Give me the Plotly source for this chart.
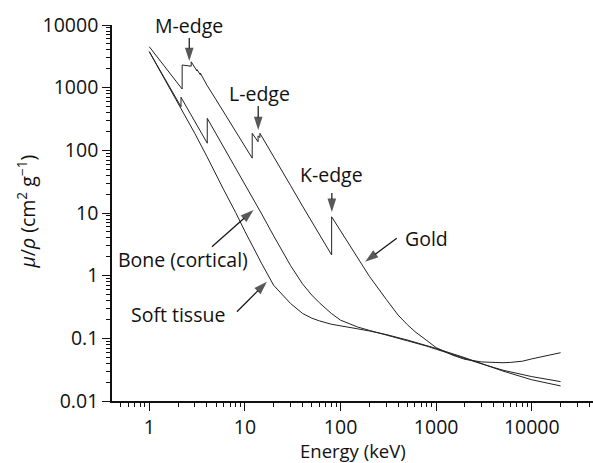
import math
import plotly.graph_objects as go

# Mass attenuation coefficient mu/rho (cm^2/g) versus photon energy (keV).
# Absorption edges are written as two points at the same energy.
gold_energy = [1.0, 1.5, 2.0, 2.206, 2.206, 2.45, 2.743, 2.743, 3.0, 3.148, 3.148,
               3.425, 3.425, 4.0, 5.0, 6.0, 8.0, 10.0, 11.92, 11.92, 13.73, 13.73,
               14.35, 14.35, 15.0, 20.0, 30.0, 40.0, 50.0, 60.0, 80.72, 80.72,
               100.0, 150.0, 200.0, 300.0, 400.0, 500.0, 600.0, 800.0, 1000.0,
               1500.0, 2000.0, 3000.0, 4000.0, 5000.0, 6000.0, 8000.0, 10000.0,
               15000.0, 20000.0]
gold_mu = [4500, 2050, 1160, 950, 2300, 2250, 2200, 2590, 2050, 1850, 1950,
           1600, 1700, 1100, 640, 410, 200, 118, 75, 187, 137, 170,
           160, 187, 167, 79, 27.5, 12.9, 7.26, 4.53, 2.14, 8.7,
           5.16, 1.9, 0.98, 0.42, 0.235, 0.165, 0.128, 0.092, 0.071,
           0.0536, 0.0462, 0.042, 0.0407, 0.0408, 0.0413, 0.0432, 0.047,
           0.053, 0.059]

bone_energy = [1.0, 1.5, 2.0, 2.145, 2.145, 3.0, 4.038, 4.038, 5.0, 6.0, 8.0,
               10.0, 15.0, 20.0, 30.0, 40.0, 50.0, 60.0, 80.0, 100.0, 150.0,
               200.0, 300.0, 500.0, 800.0, 1000.0, 2000.0, 3000.0, 5000.0,
               10000.0, 20000.0]
bone_mu = [3750, 1250, 590, 497, 702, 280, 130, 324, 184, 113, 52.5,
           29, 9.6, 4.3, 1.45, 0.74, 0.49, 0.37, 0.25, 0.195, 0.152,
           0.134, 0.114, 0.093, 0.075, 0.067, 0.047, 0.039, 0.031,
           0.0245, 0.0204]

tissue_energy = [1.0, 1.5, 2.0, 3.0, 4.0, 5.0, 6.0, 8.0, 10.0, 15.0, 20.0, 30.0,
                 40.0, 50.0, 60.0, 80.0, 100.0, 150.0, 200.0, 300.0, 500.0,
                 800.0, 1000.0, 2000.0, 3000.0, 5000.0, 10000.0, 20000.0]
tissue_mu = [3750, 1250, 580, 185, 80, 40, 23.5, 10.2, 5.1, 1.55, 0.70, 0.36,
             0.25, 0.21, 0.19, 0.168, 0.157, 0.142, 0.131, 0.115, 0.094,
             0.077, 0.069, 0.049, 0.0395, 0.030, 0.0218, 0.0174]

x_tick_values = [1, 10, 100, 1000, 10000]
x_tick_labels = ["1", "10", "100", "1000", "10000"]
y_tick_values = [0.01, 0.1, 1, 10, 100, 1000, 10000]
y_tick_labels = ["0.01", "0.1", "1", "10", "100", "1000", "10000"]

FONT = "Open Sans, Noto Sans, DejaVu Sans, sans-serif"
FONT_SIZE = 19.5
INK = "#111111"
CURVE = "#222222"


def minor_ticks(first_decade, last_decade):
    return [m * 10.0 ** d for d in range(first_decade, last_decade + 1) for m in range(2, 10)]


fig = go.Figure()
for name, xs, ys in [("Gold", gold_energy, gold_mu),
                     ("Bone (cortical)", bone_energy, bone_mu),
                     ("Soft tissue", tissue_energy, tissue_mu)]:
    fig.add_trace(go.Scatter(x=xs, y=ys, mode="lines", name=name,
                             line=dict(color=CURVE, width=1), showlegend=False,
                             hoverinfo="skip"))

# Pointer arrows: (tail energy, tail mu/rho, tip energy, tip mu/rho)
arrows = [
    (2.617, 6200, 2.617, 2665),
    (13.77, 510, 13.77, 211),
    (81.1, 20.9, 81.1, 10.4),
    (387, 3.95, 180.7, 1.67),
    (4.52, 2.90, 12.3, 11.2),
    (8.25, 0.266, 16.98, 0.80),
]
for x0, y0, x1, y1 in arrows:
    fig.add_trace(go.Scatter(
        x=[x0, x1], y=[y0, y1], mode="lines+markers", showlegend=False,
        hoverinfo="skip", line=dict(color=INK, width=1.2),
        marker=dict(symbol="arrow", angleref="previous", size=[0, 14],
                    color=INK, line=dict(width=0)),
        cliponaxis=False))

# Curve labels: (text, energy keV, mu/rho) at the label centre
labels = [
    ("M-edge", 2.615, 10000),
    ("L-edge", 14.06, 822),
    ("K-edge", 81.3, 41.9),
    ("Gold", 798, 3.99),
    ("Bone (cortical)", 2.27, 1.81),
    ("Soft tissue", 2.02, 0.241),
]

annotations = []
for text, ex, mu in labels:
    annotations.append(dict(x=math.log10(ex), y=math.log10(mu), xref="x", yref="y",
                            text=text, showarrow=False, xanchor="center",
                            yanchor="middle",
                            font=dict(family=FONT, size=FONT_SIZE, color=INK)))

annotations.append(dict(x=0.5, y=-0.131, xref="paper", yref="paper", text="Energy (keV)",
                        showarrow=False, xanchor="center", yanchor="middle",
                        font=dict(family=FONT, size=18.5, color=INK)))
annotations.append(dict(x=-0.178, y=0.505, xref="paper", yref="paper",
                        text="<i>\u03bc</i>/<i>\u03c1</i> (cm<sup>2</sup> g<sup>\u22121</sup>)",
                        textangle=-90, showarrow=False, xanchor="center", yanchor="middle",
                        font=dict(family=FONT, size=FONT_SIZE, color=INK)))

axis_common = dict(type="log", showgrid=False, zeroline=False, showline=True,
                   linecolor=INK, linewidth=1.6, ticks="outside", tickcolor=INK,
                   tickwidth=1.4, ticklen=8, tickmode="array",
                   tickfont=dict(family=FONT, size=FONT_SIZE, color=INK), mirror=False)

fig.update_layout(
    width=593, height=463,
    margin=dict(l=112, r=0, t=25, b=62),
    paper_bgcolor="white", plot_bgcolor="white",
    xaxis=dict(**axis_common, range=[-0.39, 4.64], tickvals=x_tick_values,
               ticktext=x_tick_labels,
               minor=dict(ticks="outside", ticklen=4, tickwidth=1.2, tickcolor=INK,
                          tickmode="array", tickvals=minor_ticks(-1, 4), showgrid=False)),
    yaxis=dict(**axis_common, range=[-2, 4], tickvals=y_tick_values,
               ticktext=y_tick_labels,
               minor=dict(ticks="outside", ticklen=4, tickwidth=1.2, tickcolor=INK,
                          tickmode="array", tickvals=minor_ticks(-2, 3), showgrid=False)),
    annotations=annotations,
)

fig.write_html("out.html")
